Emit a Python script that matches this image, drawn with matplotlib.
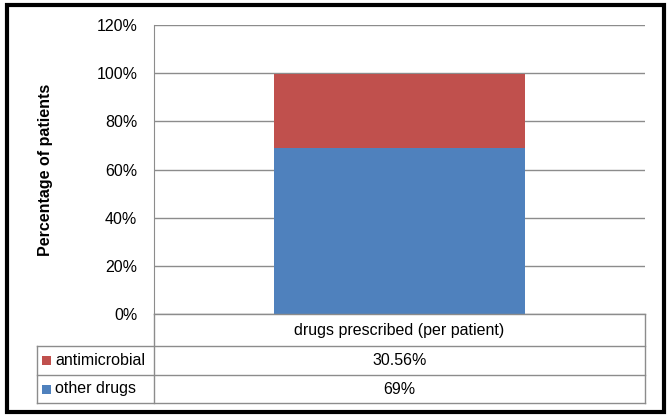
import matplotlib.pyplot as plt
from matplotlib.patches import Rectangle
from matplotlib.lines import Line2D
from matplotlib.ticker import FuncFormatter

# data
category = "drugs prescribed (per patient)"
series_names = ["antimicrobial", "other drugs"]
other_drugs = [69.0]
antimicrobial = [30.56]
table_labels = ["30.56%", "69%"]
series_colors = ["#C0504D", "#4F81BD"]

W, H = 671, 418
plt.rcParams["font.family"] = ["Liberation Sans", "DejaVu Sans"]

fig = plt.figure(figsize=(W / 100, H / 100), dpi=100)


def fx(px):
    return px / W


def fy(py):
    return 1 - py / H


# plot area in pixel units
L, R, T, B = 154, 645, 25, 314
ax = fig.add_axes([fx(L), fy(B), fx(R) - fx(L), fy(T) - fy(B)])

ax.bar([0], other_drugs, width=0.51, color=series_colors[1], zorder=3)
ax.bar([0], antimicrobial, bottom=other_drugs, width=0.51,
       color=series_colors[0], zorder=3)

ax.set_xlim(-0.5, 0.5)
ax.set_ylim(0, 120)
ax.set_yticks(range(0, 121, 20))
ax.yaxis.set_major_formatter(FuncFormatter(lambda v, _: f"{v:.0f}%"))
ax.tick_params(axis="y", length=0, pad=12, labelsize=11.5)
ax.set_xticks([])
ax.grid(axis="y", color="#8C8C8C", linewidth=1, zorder=0)
for s in ["top", "right", "bottom"]:
    ax.spines[s].set_visible(False)
ax.spines["left"].set_color("#8C8C8C")
ax.set_ylabel("Percentage of patients", fontsize=11.5, fontweight="bold",
              labelpad=31)

# data table below the plot
line_kw = dict(color="#8C8C8C", linewidth=1, transform=fig.transFigure)
rows = [314, 346, 375, 403]
fig.add_artist(Line2D([fx(L), fx(R)], [fy(rows[0])] * 2, **line_kw))
for yy in rows[1:]:
    fig.add_artist(Line2D([fx(37), fx(R)], [fy(yy)] * 2, **line_kw))
fig.add_artist(Line2D([fx(L), fx(L)], [fy(rows[0]), fy(rows[-1])], **line_kw))
fig.add_artist(Line2D([fx(R), fx(R)], [fy(rows[0]), fy(rows[-1])], **line_kw))
fig.add_artist(Line2D([fx(37), fx(37)], [fy(rows[1]), fy(rows[-1])], **line_kw))

cx = (L + R) / 2
fig.text(fx(cx), fy((rows[0] + rows[1]) / 2), category, ha="center",
         va="center", fontsize=11.5)
for i, (name, val, col) in enumerate(zip(series_names, table_labels, series_colors)):
    yc = (rows[i + 1] + rows[i + 2]) / 2
    fig.add_artist(Rectangle((fx(42), fy(yc + 4.5)), fx(9), fy(0) - fy(9),
                             facecolor=col, edgecolor="none",
                             transform=fig.transFigure))
    fig.text(fx(55), fy(yc), name, ha="left", va="center", fontsize=11.5)
    fig.text(fx(cx), fy(yc), val, ha="center", va="center", fontsize=11.5)

# outer border
fig.add_artist(Rectangle((fx(7), fy(412)), fx(657), fy(0) - fy(407),
                         fill=False, edgecolor="black", linewidth=3,
                         transform=fig.transFigure))

fig.savefig("out.png", dpi=100)
